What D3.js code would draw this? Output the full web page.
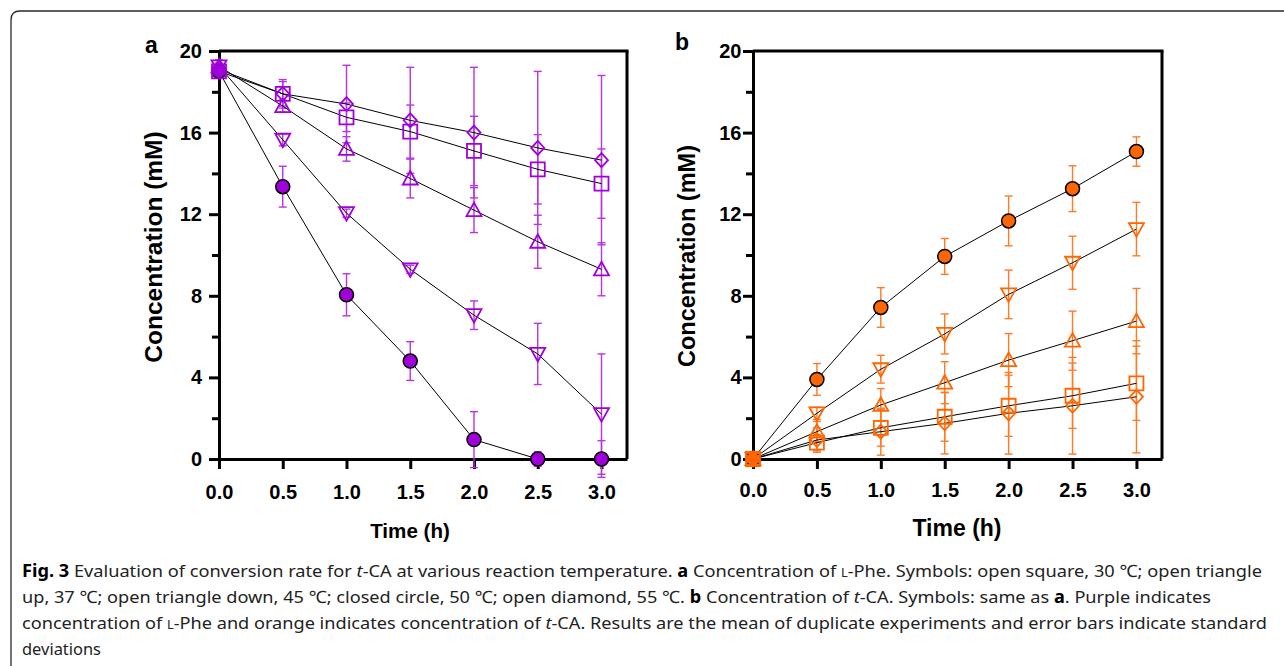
<!DOCTYPE html>
<html><head><meta charset="utf-8">
<script src="https://cdn.jsdelivr.net/npm/d3@7"></script>
<style>
html,body{margin:0;padding:0;background:#fff;}
svg{display:block;}
</style></head>
<body>
<svg id="c" width="1284" height="666"></svg>
<script>
// ---------- data ----------
const times = [0, 0.5, 1.0, 1.5, 2.0, 2.5, 3.0];
const xTicks = [0, 0.5, 1.0, 1.5, 2.0, 2.5, 3.0];
const yMajorTicks = [0, 4, 8, 12, 16, 20];
const yMinorTicks = [2, 6, 10, 14, 18];

// Panel a: L-Phe concentration (mM)
const aSquare      = [19.0, 17.9, 16.75, 16.05, 15.1, 14.2, 13.5];
const aSquareErr   = [0.3, 0.7, 0.7, 1.3, 1.7, 1.7, 1.7];
const aTriUp       = [19.25, 17.3, 15.2, 13.75, 12.2, 10.65, 9.3];
const aTriUpErr    = [0.3, 0.3, 0.6, 0.95, 1.1, 1.3, 1.3];
const aTriDown     = [19.25, 15.65, 12.05, 9.3, 7.05, 5.15, 2.2];
const aTriDownErr  = [0.3, 0.3, 0.2, 0.2, 0.7, 1.5, 2.95];
const aCircle      = [19.0, 13.35, 8.05, 4.8, 0.95, 0, 0];
const aCircleErr   = [0.2, 1.0, 1.03, 0.95, 1.37, 0.35, 0.9];
const aDiamond     = [19.1, 17.9, 17.4, 16.6, 16.0, 15.25, 14.65];
const aDiamondErr  = [0.3, 0.6, 1.9, 2.6, 3.2, 3.75, 4.15];

// Panel b: t-CA concentration (mM)
const bSquare      = [0, 0.8, 1.53, 2.07, 2.61, 3.1, 3.71];
const bSquareErr   = [0, 0.4, 0.9, 1.2, 1.5, 1.6, 1.82];
const bTriUp       = [0, 1.34, 2.65, 3.74, 4.85, 5.8, 6.76];
const bTriUpErr    = [0, 0.5, 0.8, 1.03, 1.3, 1.45, 1.6];
const bTriDown     = [0, 2.24, 4.4, 6.13, 8.07, 9.62, 11.27];
const bTriDownErr  = [0, 0.3, 0.68, 0.98, 1.19, 1.3, 1.31];
const bCircle      = [0, 3.9, 7.43, 9.93, 11.67, 13.25, 15.07];
const bCircleErr   = [0, 0.78, 0.97, 0.88, 1.22, 1.12, 0.72];
const bDiamond     = [0, 0.93, 1.34, 1.75, 2.24, 2.61, 3.05];
const bDiamondErr  = [0, 0.6, 1.15, 1.5, 2.0, 2.37, 2.75];

// ---------- drawing ----------
const svg = d3.select("#c");
const FONT = "'Liberation Sans', Arial, sans-serif";

// outer rounded frame
svg.append("path")
  .attr("d", "M11,700 V20 Q11,11 20,11 H1300")
  .attr("fill", "none").attr("stroke", "#2a2a2a").attr("stroke-width", 1.3);

function shapePath(shape) {
  switch (shape) {
    case "square": return "M-7,-7H7V7H-7Z";
    case "triUp": return "M0,-7.5L7.5,6L-7.5,6Z";
    case "triDown": return "M0,7.5L7.5,-6L-7.5,-6Z";
    case "diamond": return "M0,-7L6.5,0L0,7L-6.5,0Z";
  }
}

function panel(cfg) {
  const g = svg.append("g");
  const x = d3.scaleLinear().domain([0, 3.2]).range([cfg.x0, cfg.x1]);
  const y = d3.scaleLinear().domain([0, 20]).range([cfg.y0, cfg.y1]);

  // frame top/right
  g.append("line").attr("x1", cfg.x0).attr("x2", cfg.x1 + 1.5).attr("y1", cfg.y1).attr("y2", cfg.y1)
    .attr("stroke", "#000").attr("stroke-width", 3);
  g.append("line").attr("x1", cfg.x1).attr("x2", cfg.x1).attr("y1", cfg.y1).attr("y2", cfg.y0)
    .attr("stroke", "#000").attr("stroke-width", 3);

  // y axis major
  const ya = g.append("g").attr("transform", `translate(${cfg.x0},0)`)
    .call(d3.axisLeft(y).tickValues(yMajorTicks).tickSize(10).tickSizeOuter(0)
      .tickPadding(cfg.yPad).tickFormat(d3.format("d")));
  ya.select(".domain").attr("stroke-width", 3);
  ya.selectAll(".tick line").attr("stroke-width", 3);
  ya.selectAll(".tick text").attr("font-family", FONT).attr("font-weight", "bold")
    .attr("font-size", 20).attr("fill", "#000");
  // y minor
  const ym = g.append("g").attr("transform", `translate(${cfg.x0},0)`)
    .call(d3.axisLeft(y).tickValues(yMinorTicks).tickSize(7).tickSizeOuter(0).tickFormat(""));
  ym.select(".domain").remove();
  ym.selectAll(".tick line").attr("stroke-width", 3);

  // x axis
  const xa = g.append("g").attr("transform", `translate(0,${cfg.y0})`)
    .call(d3.axisBottom(x).tickValues(xTicks).tickSize(10).tickSizeOuter(0)
      .tickPadding(cfg.xPad).tickFormat(d3.format(".1f")));
  xa.select(".domain").attr("stroke-width", 3);
  xa.selectAll(".tick line").attr("stroke-width", 3);
  xa.selectAll(".tick text").attr("font-family", FONT).attr("font-weight", "bold")
    .attr("font-size", 20).attr("fill", "#000");

  const series = cfg.series;

  // error bars
  series.forEach(s => {
    const eg = g.append("g").attr("stroke", cfg.errColor).attr("stroke-width", 1.4).attr("fill", "none");
    times.forEach((t, i) => {
      const e = s.err[i];
      if (!e) return;
      const cx = x(t), yt = y(s.vals[i] + e), yb = y(s.vals[i] - e);
      eg.append("line").attr("x1", cx).attr("x2", cx).attr("y1", yt).attr("y2", yb);
      eg.append("line").attr("x1", cx - 4).attr("x2", cx + 4).attr("y1", yt).attr("y2", yt);
      eg.append("line").attr("x1", cx - 4).attr("x2", cx + 4).attr("y1", yb).attr("y2", yb);
    });
  });

  // connecting lines
  const line = d3.line().x((d, i) => x(times[i])).y(d => y(d));
  series.forEach(s => {
    g.append("path").attr("d", line(s.vals)).attr("fill", "none")
      .attr("stroke", "#000").attr("stroke-width", 1);
  });

  // markers: filled circles first, open shapes on top
  series.filter(s => s.shape === "circle").forEach(s => {
    times.forEach((t, i) => {
      g.append("circle").attr("cx", x(t)).attr("cy", y(s.vals[i])).attr("r", 7)
        .attr("fill", cfg.color).attr("stroke", "#000").attr("stroke-width", 1.5);
    });
  });
  series.filter(s => s.shape !== "circle").forEach(s => {
    times.forEach((t, i) => {
      g.append("path").attr("d", shapePath(s.shape))
        .attr("transform", `translate(${x(t)},${y(s.vals[i])})`)
        .attr("fill", "none").attr("stroke", cfg.color).attr("stroke-width", 1.8);
    });
  });

  // titles
  g.append("text").attr("transform", `translate(${cfg.ytX},${cfg.ytY}) rotate(-90)`)
    .attr("text-anchor", "middle").attr("font-family", FONT).attr("font-weight", "bold")
    .attr("font-size", cfg.ytSize).text("Concentration (mM)");
  g.append("text").attr("x", cfg.xtX).attr("y", cfg.xtY)
    .attr("text-anchor", "middle").attr("font-family", FONT).attr("font-weight", "bold")
    .attr("font-size", cfg.xtSize).text("Time (h)");
  g.append("text").attr("x", cfg.lblX).attr("y", cfg.lblY)
    .attr("font-family", FONT).attr("font-weight", "bold").attr("font-size", 23).text(cfg.label);
}

panel({
  label: "a", lblX: 145, lblY: 53,
  x0: 219, x1: 627, y0: 459, y1: 51, yPad: 7, xPad: 16,
  color: "#a000dc", errColor: "#b833e6",
  ytX: 162, ytY: 247, ytSize: 24.5, xtX: 410, xtY: 538, xtSize: 20.6,
  series: [
    {shape: "square", vals: aSquare, err: aSquareErr},
    {shape: "triUp", vals: aTriUp, err: aTriUpErr},
    {shape: "triDown", vals: aTriDown, err: aTriDownErr},
    {shape: "diamond", vals: aDiamond, err: aDiamondErr},
    {shape: "circle", vals: aCircle, err: aCircleErr}
  ]
});

panel({
  label: "b", lblX: 675, lblY: 50,
  x0: 753, x1: 1162, y0: 459, y1: 51, yPad: 1.5, xPad: 14,
  color: "#ff6600", errColor: "#ff7a26",
  ytX: 695, ytY: 256, ytSize: 23.5, xtX: 957, xtY: 536, xtSize: 23,
  series: [
    {shape: "square", vals: bSquare, err: bSquareErr},
    {shape: "triUp", vals: bTriUp, err: bTriUpErr},
    {shape: "triDown", vals: bTriDown, err: bTriDownErr},
    {shape: "diamond", vals: bDiamond, err: bDiamondErr},
    {shape: "circle", vals: bCircle, err: bCircleErr}
  ]
});

// ---------- caption ----------
const captionLines = [
  {y: 577, x1: 1262, parts: [["Fig. 3", "b"], ["  Evaluation of conversion rate for ", ""], ["t", "i"],
    ["-CA at various reaction temperature. ", ""], ["a", "b"], [" Concentration of ", ""], ["L", "s"],
    ["-Phe. Symbols: open square, 30 \u2103; open triangle", ""]]},
  {y: 603, x1: 1211, parts: [["up, 37 \u2103; open triangle down, 45 \u2103; closed circle, 50 \u2103; open diamond, 55 \u2103. ", ""],
    ["b", "b"], [" Concentration of ", ""], ["t", "i"], ["-CA. Symbols: same as ", ""], ["a", "b"], [". Purple indicates", ""]]},
  {y: 629, x1: 1267, parts: [["concentration of ", ""], ["L", "s"], ["-Phe and orange indicates concentration of ", ""],
    ["t", "i"], ["-CA. Results are the mean of duplicate experiments and error bars indicate standard", ""]]},
  {y: 655, x1: 101, parts: [["deviations", ""]]}
];
captionLines.forEach(l => {
  const t = svg.append("text").attr("x", 22).attr("y", l.y)
    .attr("font-family", "'Noto Sans', 'Open Sans', sans-serif").attr("font-size", 17).attr("fill", "#222")
    .attr("textLength", l.x1 - 22).attr("lengthAdjust", "spacingAndGlyphs");
  l.parts.forEach(p => {
    const ts = t.append("tspan").text(p[0]);
    if (p[1] === "b") ts.attr("font-weight", "bold").attr("fill", "#000");
    if (p[1] === "i") ts.attr("font-style", "italic");
    if (p[1] === "s") ts.attr("font-size", 12);
  });
});
</script>
</body></html>
